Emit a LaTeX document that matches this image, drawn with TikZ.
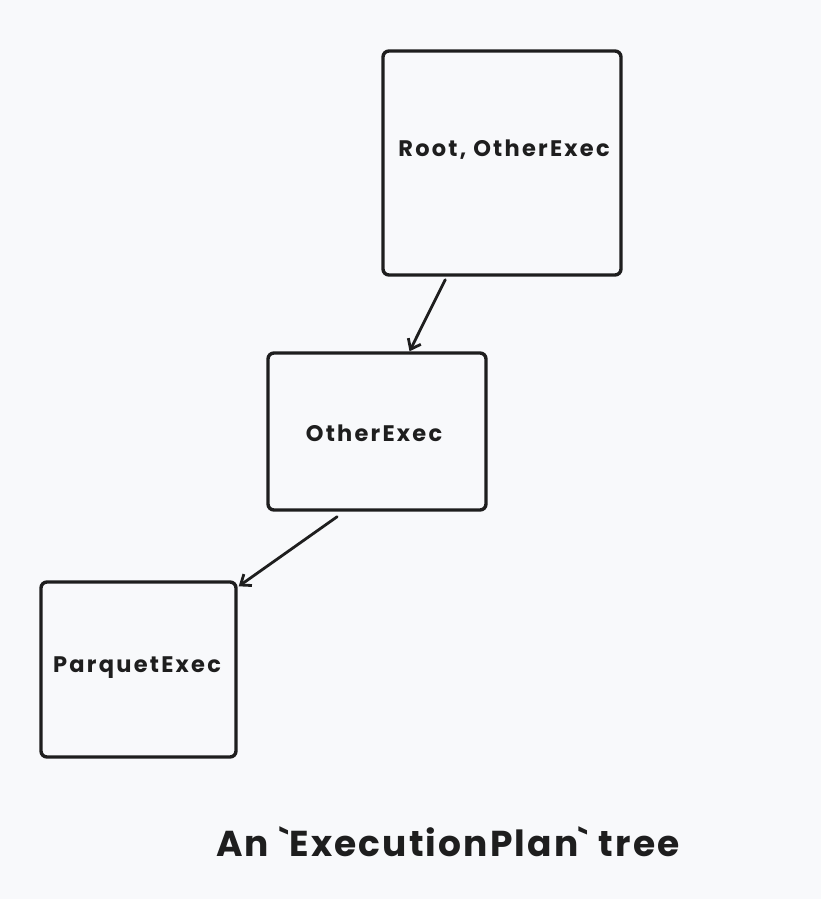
\documentclass[tikz,border=0pt]{standalone}
\usepackage{fontspec}
\setmainfont{Poppins}
\newfontfamily\boxfont[LetterSpace=10]{Poppins}
\newfontfamily\titlefont[LetterSpace=6]{Poppins}
\usetikzlibrary{arrows.meta,calc}
\definecolor{bg}{HTML}{F8F9FB}
\definecolor{ink}{HTML}{1E1E1E}
\begin{document}
\begin{tikzpicture}[x=1pt,y=-1pt,
  box/.style={draw=ink,line width=3.4pt,rounded corners=6pt,inner sep=0pt},
  lbl/.style={text=ink,font=\boxfont\fontsize{22.5}{26}\selectfont\bfseries},
  conn/.style={draw=ink,line width=2.8pt,line cap=round,-{Straight Barb[length=9pt,width=14pt,line width=2.8pt]}}]
\fill[bg] (0,0) rectangle (821,899);
\useasboundingbox (0,0) rectangle (821,899);
\node[box,minimum width=238pt,minimum height=224pt] (root) at (502,163) {};
\node[lbl] (rootl) at (504,150) {Root, OtherExec};
\node[box,minimum width=218pt,minimum height=157pt] (other) at (377,431.5) {};
\node[lbl] (otherl) at (374,433) {OtherExec};
\node[box,minimum width=195pt,minimum height=175pt] (parq) at (138.5,669.5) {};
\node[lbl] (parql) at (137,668) {ParquetExec};
\node[text=ink,font=\titlefont\fontsize{36}{40}\selectfont\bfseries] (title) at (448,842) {An \textasciigrave ExecutionPlan\textasciigrave\ tree};
\coordinate (a1) at ($(root.south west)!0.265!(root.south east)$);
\coordinate (b1) at ($(other.north west)!0.647!(other.north east)$);
\coordinate (a2) at ($(other.south west)!0.32!(other.south east)$);
\coordinate (b2) at ($(parq.north east)+(1,6)$);
\draw[conn] ($(a1)+(0,3)$) -- (b1);
\draw[conn] ($(a2)+(0,5)$) -- (b2);
\end{tikzpicture}
\end{document}
